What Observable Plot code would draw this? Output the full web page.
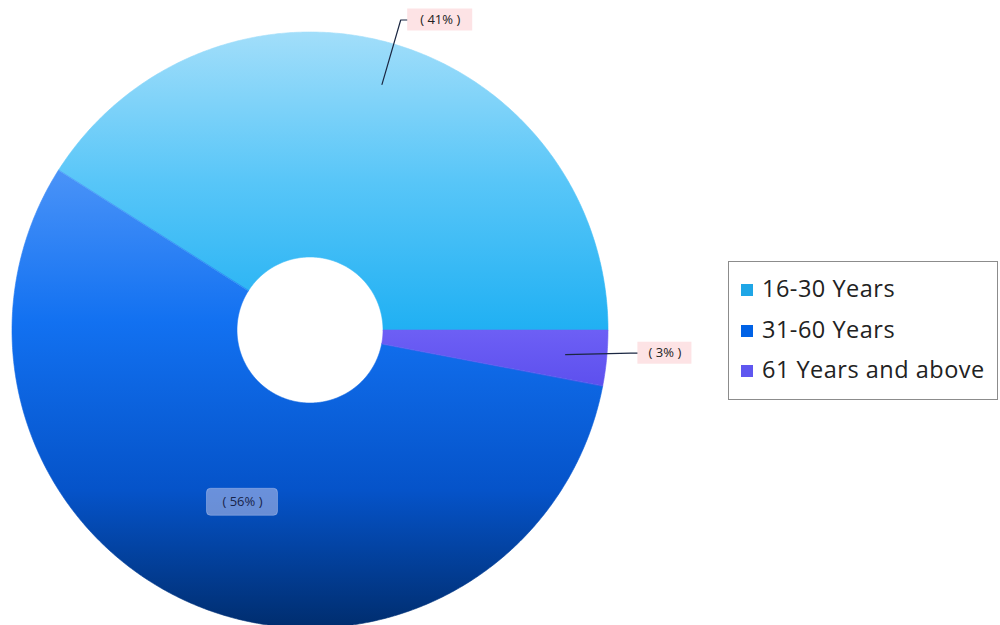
<!DOCTYPE html>
<html>
<head>
<meta charset="utf-8">
<script src="https://cdn.jsdelivr.net/npm/d3@7"></script>
<script src="https://cdn.jsdelivr.net/npm/@observablehq/plot@0.6"></script>
<style>
  html, body { margin: 0; padding: 0; background: #fff; }
  #wrap { position: relative; width: 1000px; height: 625px; overflow: hidden; }
  #legend { position: absolute; left: 728px; top: 261px; width: 268px; height: 137px;
    border: 1px solid #8c8c8c; background: #fff; font-family: "Open Sans", "Noto Sans", sans-serif;
    font-size: 23.5px; letter-spacing: 0.5px; color: #222; box-sizing: content-box; }
  .row { position: absolute; left: 12px; height: 30px; line-height: 30px; white-space: nowrap; }
  .sw { display: inline-block; width: 12px; height: 12px; margin-right: 9px; vertical-align: 1px; }
</style>
</head>
<body>
<div id="wrap"></div>
<script>
// ---- data ----
const ages = ["16-30 Years", "31-60 Years", "61 Years and above"];
const shares = [41, 56, 3];
const labels = ["( 41% )", "( 56% )", "( 3% )"];
const legendColors = ["#1fa6e6", "#0062e6", "#5f57f0"];

// ---- geometry helpers (unit-circle coordinates, angles CCW from east) ----
const R_IN = 73 / 298;
const total = d3.sum(shares);
let acc = 0;
const slices = shares.map((v, i) => {
  const a0 = acc / total * 2 * Math.PI;
  acc += v;
  const a1 = acc / total * 2 * Math.PI;
  return { age: ages[i], value: v, label: labels[i], a0, a1, mid: (a0 + a1) / 2 };
});

// band of points: outer edge (xo,yo) and inner edge (xi,yi) for each angle
function band(a0, a1, key) {
  const n = Math.max(4, Math.ceil((a1 - a0) / 0.008));
  const pts = [];
  for (let k = 0; k <= n; k++) {
    const a = a0 + (a1 - a0) * k / n;
    pts.push({ key, xo: Math.cos(a), yo: Math.sin(a), xi: R_IN * Math.cos(a), yi: R_IN * Math.sin(a) });
  }
  return pts;
}

const PX = 1 / 298; // one pixel in unit coordinates
const gradIds = ["g0", "g1", "g2"];

// leader lines & labels
const leaders = [];
const labelBoxes = [];
[0, 2].forEach(i => {
  const s = slices[i];
  const r0 = 0.86, r1 = i === 0 ? 1.085 : 1.08;
  const p0 = { x: r0 * Math.cos(s.mid), y: r0 * Math.sin(s.mid) };
  let p1 = { x: r1 * Math.cos(s.mid), y: r1 * Math.sin(s.mid) };
  if (i === 2) p1 = { x: p1.x, y: p1.y * 0.75 };
  const p2 = { x: p1.x + 7 * PX, y: p1.y };
  leaders.push({ key: i, ...p0 }, { key: i, ...p1 }, { key: i, ...p2 });
  const w = (i === 0 ? 65 : 54) * PX, h = 22 * PX;
  labelBoxes.push({ key: i, text: s.label, x1: p2.x, x2: p2.x + w, y1: p2.y - h / 2, y2: p2.y + h / 2,
    cx: p2.x + w / 2, cy: p2.y });
});
// inner label for 56%
const innerBox = (() => {
  const s = slices[1];
  const r = 0.62;
  const cx = r * Math.cos(s.mid), cy = r * Math.sin(s.mid);
  const w = 71 * PX, h = 27 * PX;
  return [{ text: s.label, x1: cx - w / 2, x2: cx + w / 2, y1: cy - h / 2, y2: cy + h / 2, cx, cy }];
})();

const chart = Plot.plot({
  width: 1000,
  height: 625,
  margin: 0,
  x: { domain: [-1, 1], range: [12, 608], axis: null },
  y: { domain: [-1, 1], range: [628, 32], axis: null },
  style: { background: "transparent", overflow: "visible" },
  marks: [
    // soft shadow ring under the donut
    Plot.area(band(0, 2 * Math.PI, "all"), {
      x1: "xo", y1: "yo", x2: "xi", y2: "yi", z: "key", fill: "#ffffff", ariaLabel: "pie-shadow"
    }),
    ...slices.map((s, i) =>
      Plot.area(band(s.a0, s.a1, s.age), {
        x1: "xo", y1: "yo", x2: "xi", y2: "yi", z: "key",
        fill: `url(#${gradIds[i]})`, stroke: `url(#${gradIds[i]})`, strokeWidth: 0.6
      })
    ),
    // leader lines
    Plot.line(leaders, { x: "x", y: "y", z: "key", stroke: "#1b2742", strokeWidth: 1.2 }),
    // outer label boxes
    Plot.rect(labelBoxes, { x1: "x1", x2: "x2", y1: "y1", y2: "y2", fill: "#fde3e5" }),
    Plot.text(labelBoxes, { x: "cx", y: "cy", text: "text", fill: "#222", fontSize: 13,
      fontFamily: "'Open Sans', 'Noto Sans', sans-serif" }),
    // inner label
    Plot.rect(innerBox, { x1: "x1", x2: "x2", y1: "y1", y2: "y2", fill: "#aebbe8", fillOpacity: 0.6,
      rx: 4, stroke: "#c0cdf2", strokeOpacity: 0.4 }),
    Plot.text(innerBox, { x: "cx", y: "cy", text: "text", fill: "#18244a", fontSize: 13,
      fontFamily: "'Open Sans', 'Noto Sans', sans-serif" })
  ]
});

// gradients and shadow filter definitions
const svgSel = d3.select(chart.tagName.toLowerCase() === "svg" ? chart : chart.querySelector("svg"));
const defs = svgSel.insert("defs", ":first-child");
const grads = [
  [[0, "#a2defa"], [0.5, "#58c6f8"], [1, "#20b0f3"]],
  [[0, "#4a93f8"], [0.33, "#1271f1"], [0.7, "#0553c9"], [1, "#002d6e"]],
  [[0, "#6d5ff5"], [1, "#5d50ee"]]
];
grads.forEach((stops, i) => {
  const g = defs.append("linearGradient").attr("id", gradIds[i])
    .attr("x1", 0).attr("y1", 0).attr("x2", 0).attr("y2", 1);
  stops.forEach(([o, c]) => g.append("stop").attr("offset", o).attr("stop-color", c));
});
const f = defs.append("filter").attr("id", "pieShadow")
  .attr("x", "-10%").attr("y", "-10%").attr("width", "120%").attr("height", "120%");
f.append("feDropShadow").attr("dx", 0).attr("dy", 0).attr("stdDeviation", 2.5)
  .attr("flood-color", "#7a6a5a").attr("flood-opacity", 0.65);
svgSel.selectAll("g[aria-label='pie-shadow']").attr("filter", "url(#pieShadow)");

const wrap = document.getElementById("wrap");
wrap.appendChild(chart);

// legend
const legend = document.createElement("div");
legend.id = "legend";
ages.forEach((a, i) => {
  const row = document.createElement("div");
  row.className = "row";
  row.style.top = (11 + i * 40.5) + "px";
  const sw = document.createElement("span");
  sw.className = "sw";
  sw.style.background = legendColors[i];
  row.appendChild(sw);
  row.appendChild(document.createTextNode(a));
  legend.appendChild(row);
});
wrap.appendChild(legend);
</script>
</body>
</html>
